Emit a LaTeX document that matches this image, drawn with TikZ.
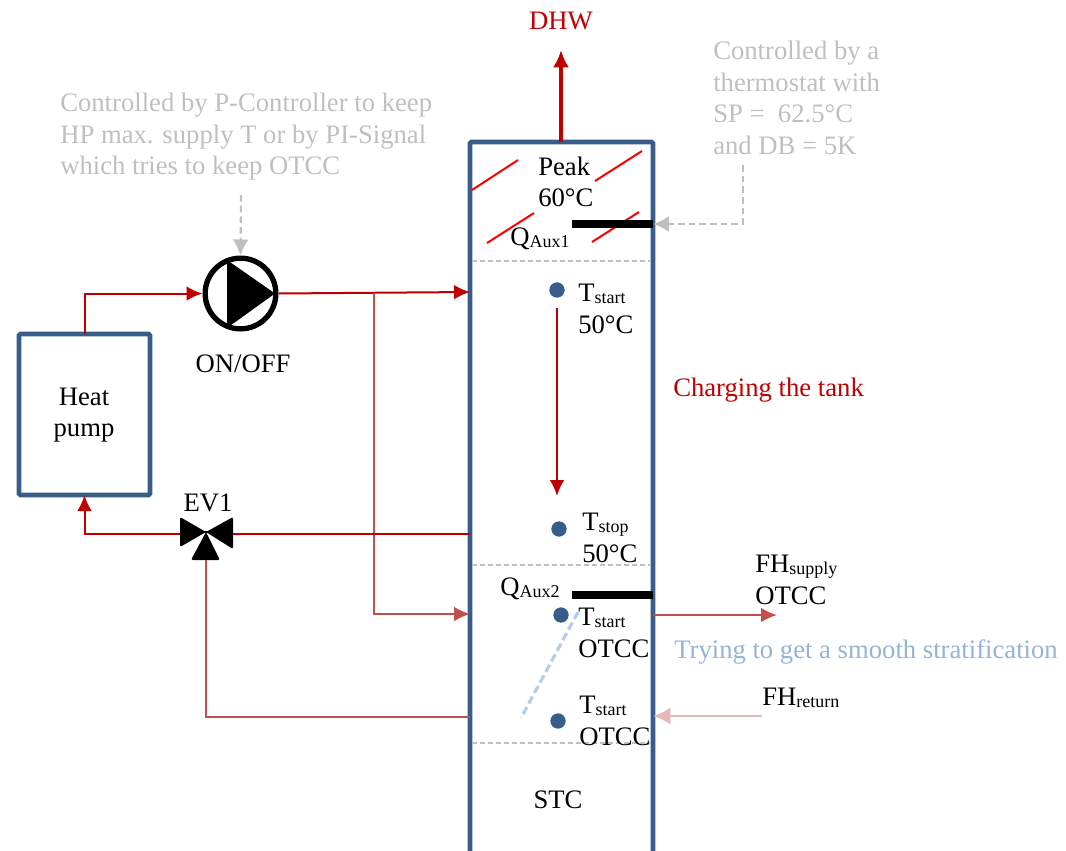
\documentclass[tikz,border=0pt]{standalone}
\usepackage{fontspec}
\setmainfont{Liberation Serif}
\usetikzlibrary{arrows.meta,calc}
\definecolor{TankBlue}{RGB}{56,93,138}
\definecolor{DarkRed}{RGB}{192,0,0}
\definecolor{SoftRed}{RGB}{192,80,77}
\definecolor{PaleRed}{RGB}{230,185,184}
\definecolor{NoteGray}{RGB}{191,191,191}
\definecolor{SoftBlue}{RGB}{184,204,228}
\definecolor{TextBlue}{RGB}{149,179,215}
\newcommand{\lowtxt}[1]{\raisebox{-0.12ex}{\fontsize{13.5}{16}\selectfont #1}}
\tikzset{
  txt/.style={font=\fontsize{20}{23.6}\selectfont,inner sep=0pt,align=left,text=black},
  note/.style={txt,text=NoteGray},
  box/.style={draw=TankBlue,line width=3.5pt,rounded corners=1pt,outer sep=0pt,inner sep=0pt},
  pipe/.style={DarkRed,line width=1.5pt},
  hot/.style={pipe,-{Latex[length=12pt,width=11pt]}},
  warm/.style={SoftRed,line width=1.5pt},
  warmarrow/.style={warm,-{Latex[length=12pt,width=11pt]}},
  sep/.style={dash pattern=on 4pt off 2pt,NoteGray,line width=1pt},
  hatch/.style={red,line width=1.5pt},
  bar/.style={line width=6pt,black},
  dot/.style={circle,fill=TankBlue,inner sep=0pt,minimum size=11.5pt},
  notearrow/.style={dash pattern=on 5pt off 3pt,NoteGray,line width=1.6pt,-{Latex[length=12pt,width=12pt]}}
}
\begin{document}
\begin{tikzpicture}[x=0.75pt,y=-0.75pt]
      \useasboundingbox (0,0) rectangle (1066,850);
      % tank, open at the page bottom
      \begin{scope}
        \clip (0,0) rectangle (1066,850);
        \node[box,minimum width=137.25pt,minimum height=560pt,anchor=north west] (tank) at (470,142) {};
      \end{scope}
      \node[box,minimum width=98.25pt,minimum height=120.75pt] (hp) at (84.5,414.5) {};
      \node[txt,align=center] (hptxt) at (84,415) {Heat\\pump};
      % pump
      \node[circle,draw=black,line width=4pt,minimum size=53pt,inner sep=0pt] (pump) at (240.5,293.5) {};
      \fill[black] (227,260) -- (275,293.5) -- (227,328) -- cycle;
      \node[txt] (onoff) at (243,364) {ON/OFF};
      % valve
      \coordinate (ev) at (206,532);
      \fill[black,rounded corners=1.5pt] (180,517) -- (ev) -- (233,517) -- (233,549) -- (ev) -- (180,547) -- cycle;
      \fill[black,rounded corners=1.5pt] (ev) -- (220,560) -- (191,560) -- cycle;
      \coordinate (evleft) at (180,534);
      \coordinate (evright) at (233,534);
      \coordinate (evdown) at (206,560);
      \node[txt] (evtxt) at (208,503) {EV1};
      % ports on the tank
      \coordinate (inhot) at (470,292);
      \coordinate (inwarm) at (470,614);
      \coordinate (outret) at (470,534);
      \coordinate (outlow) at (470,717);
      \coordinate (tee) at (374,293);
      % piping
      \draw[hot] (hp.north) |- (pump.west);
      \draw[hot] (pump.east) -- (inhot);
      \draw[warmarrow] (tee) |- (inwarm);
      \draw[pipe] (outret) -- (evright);
      \draw[hot] (evleft) -| (hp.south);
      \draw[warm] (evdown) |- (outlow);
      \coordinate (dhwend) at (561,50);
      \coordinate (dhwout) at (561,142);
      \node[txt,text=DarkRed] (dhw) at (561,21) {DHW};
      \draw[DarkRed,line width=2.6pt,-{Latex[length=13pt,width=12pt]}] (dhwout) -- (dhwend);
      % separators and heaters
      \foreach \y in {261,565,743}{
        \draw[sep] (472,\y) -- (651,\y);
      }
      \draw[hatch] (472,190) -- (518,160);
      \draw[hatch] (595,181) -- (642,151);
      \draw[hatch] (487,243) -- (534,213);
      \draw[hatch] (592,242) -- (639,212);
      \draw[bar] (572,224) -- (653,224);
      \draw[bar] (572,595) -- (653,595);
      % sensors
      \foreach \n/\x/\y in {a/557/290,b/559/529,c/561/615,d/558/721}{
        \node[dot] (s\n) at (\x,\y) {};
      }
      \coordinate (chgstart) at (557,308);
      \coordinate (chgend) at (557,496);
      \draw[hot] (chgstart) -- (chgend);
      \draw[SoftBlue,line width=2.4pt,dash pattern=on 6pt off 3pt] (578,612) -- (521,718);
      % tank labels
      \node[txt,anchor=west] (peak) at (538,182) {Peak\\60°C};
      \node[txt,anchor=west] (qa) at (510,239) {Q\lowtxt{Aux1}};
      \node[txt,anchor=west] (qb) at (500,589) {Q\lowtxt{Aux2}};
      \node[txt,anchor=west] (ta) at (578,309) {T\lowtxt{start}\\50°C};
      \node[txt,anchor=west] (tb) at (582,538) {T\lowtxt{stop}\\50°C};
      \node[txt,anchor=west] (tc) at (578,633) {T\lowtxt{start}\\OTCC};
      \node[txt,anchor=west] (td) at (579,721) {T\lowtxt{start}\\OTCC};
      \node[txt] (stc) at (558,800) {STC};
      \node[txt,anchor=west,text=DarkRed] (chg) at (673,390) {Charging the tank};
      % floor heating
      \node[txt,anchor=west] (fhs) at (755,580) {FH\lowtxt{supply}\\OTCC};
      \node[txt,anchor=west] (fhr) at (762,698) {FH\lowtxt{return}};
      \node[txt,anchor=west,text=TextBlue] (smooth) at (674,652) {Trying to get a smooth stratification};
      \coordinate (fhsout) at (653,615);
      \coordinate (fhsend) at (777,615);
      \coordinate (fhrstart) at (762,716);
      \coordinate (fhrend) at (653,716);
      \draw[warmarrow] (fhsout) -- (fhsend);
      \draw[PaleRed,line width=2pt,-{Latex[length=13pt,width=13pt]}] (fhrstart) -- (fhrend);
      % grey notes
      \node[note,anchor=west] (notepump) at (60,137) {Controlled by P-Controller to keep\\HP max. supply T or by PI-Signal\\which tries to keep OTCC};
      \node[note,anchor=west] (noteaux) at (713,98) {Controlled by a\\thermostat with\\SP =~ 62.5°C\\and DB = 5K};
      \coordinate (pumpin) at (241,195);
      \coordinate (auxin) at (743,165);
      \coordinate (auxport) at (653,224);
      \draw[notearrow] (pumpin) -- (pump.north);
      \draw[notearrow] (auxin) |- (auxport);
\end{tikzpicture}
\end{document}
